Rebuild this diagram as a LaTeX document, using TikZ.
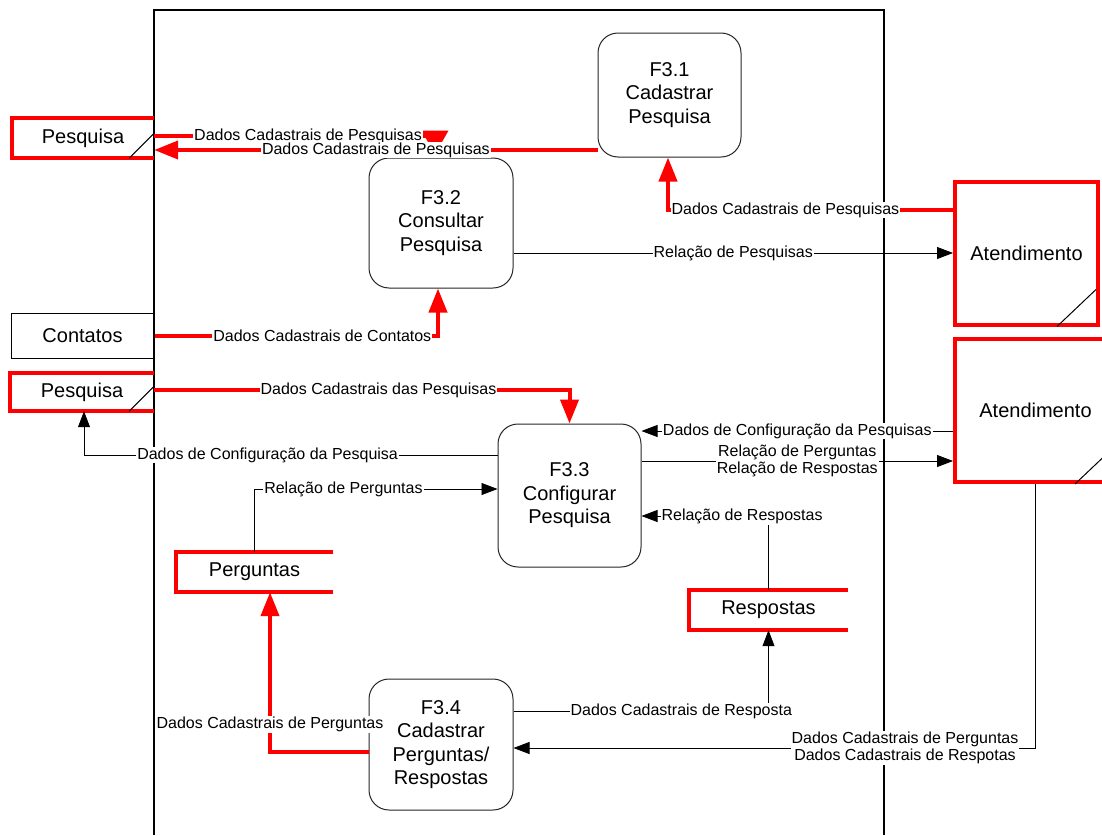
\documentclass[tikz,border=0pt]{standalone}
\usepackage{fontspec}
\setmainfont{Liberation Sans}
\usetikzlibrary{arrows.meta}

\newcommand{\procfont}{\fontsize{20}{23.5}\selectfont}
\newcommand{\flowfont}{\fontsize{16}{17.5}\selectfont}

\tikzstyle{process}=[draw=black!85, line width=1pt, rounded corners=20pt, align=center, inner sep=0pt, font=\procfont]
\tikzstyle{store}=[inner sep=0pt, font=\procfont]
\tikzstyle{entity}=[draw=red, line width=4pt, inner sep=0pt, font=\procfont]
\tikzstyle{red flow}=[red, line width=4pt, -{Triangle[length=24pt,width=18pt]}]
\tikzstyle{flow}=[black, line width=0.75pt, -{Triangle[length=16pt,width=12pt]}]
\tikzstyle{flow label}=[fill=white, text=black, inner sep=1pt, align=center, font=\flowfont]

\begin{document}
\begin{tikzpicture}[x=1pt, y=-1pt]
					\clip (0,0) rectangle (1102,835);
					\fill[white] (0,0) rectangle (1102,835);

					% System boundary
					\draw[line width=1.5pt] (154,835) -- (154,10) -- (884,10) -- (884,835);

					% Processes
					\node[process, minimum width=143pt, minimum height=124pt] (p31) at (669.5,95) {F3.1\\Cadastrar\\Pesquisa};
					\node[process, minimum width=144pt, minimum height=130pt] (p32) at (441,223) {F3.2\\Consultar\\Pesquisa};
					\node[process, minimum width=143pt, minimum height=143pt] (p33) at (569.5,495.5) {F3.3\\Configurar\\Pesquisa};
					\node[process, minimum width=144pt, minimum height=131pt] (p34) at (441,744.5) {F3.4\\Cadastrar\\Perguntas/\\Respostas};

					% Data stores and external entities
					\node[store, minimum width=142pt, minimum height=40pt] (pesq1) at (83,138) {Pesquisa};
					\node[store, minimum width=144pt, minimum height=38pt] (pesq2) at (82,392) {Pesquisa};
					\node[store, minimum width=157pt, minimum height=40pt] (perg) at (254.5,572) {Perguntas};
					\node[store, minimum width=159pt, minimum height=40pt] (resp) at (768.5,610) {Respostas};
					\node[store, draw, line width=1pt, minimum width=143pt, minimum height=45pt] (contatos) at (82.5,335.5) {Contatos};
					\node[entity, minimum width=143pt, minimum height=143pt] (atd1) at (1026.5,253) {Atendimento};
					\node[entity, minimum width=161pt, minimum height=143pt] (atd2) at (1035.5,410.5) {Atendimento};

					\foreach \s in {pesq1, pesq2, perg, resp}{
						\draw[red, line width=4pt] (\s.north east) -- (\s.north west) -- (\s.south west) -- (\s.south east);
					}
					\foreach \s in {pesq1, pesq2}{ \draw[line width=1pt] ([xshift=-25pt]\s.south east) -- ([yshift=25pt]\s.south east); }
					\foreach \s in {atd1, atd2}{ \draw[line width=1pt] ([xshift=-43pt]\s.south east) -- ([xshift=-4pt, yshift=37pt]\s.south east); }

					% Flows
					\draw[red flow, -{Triangle[length=24pt,width=26pt]}] ([yshift=2pt]pesq1.east) -| node[flow label, pos=0.274] {Dados Cadastrais de Pesquisas} ([xshift=-6pt, yshift=3pt]p32.north);
					\draw[red flow] ([yshift=-55pt]p31.west) -- node[flow label] {Dados Cadastrais de Pesquisas} ([yshift=-12pt]pesq1.east);
					\draw[red flow] ([yshift=43pt]atd1.west) -| node[flow label, pos=0.294] {Dados Cadastrais de Pesquisas} ([xshift=-1.5pt]p31.south);
					\draw[flow] (p32.east |- atd1.west) -- node[flow label] {Relação de Pesquisas} (atd1.west);
					\draw[red flow] (contatos.east) -| node[flow label, pos=0.296] {Dados Cadastrais de Contatos} ([xshift=-3pt]p32.south);
					\draw[red flow] ([yshift=2pt]pesq2.east) -| node[flow label, pos=0.27] {Dados Cadastrais das Pesquisas} (p33.north);
					\draw[flow] ([yshift=40.5pt]p33.west) -| node[flow label, pos=0.278] {Dados de Configuração da Pesquisa} ([xshift=2pt]pesq2.south);
					\draw[flow] ([yshift=-20.5pt]atd2.west) -- node[flow label] {Dados de Configuração da Pesquisas} ([yshift=64.5pt]p33.east);
					\draw[flow] ([yshift=34.5pt]p33.east) -- node[flow label] {Relação de Perguntas\\Relação de Respostas} ([yshift=-50.5pt]atd2.west);
					\draw[flow] (perg.north) |- node[flow label, pos=0.683] {Relação de Perguntas} ([yshift=6.5pt]p33.west);
					\draw[flow] (resp.north) |- node[flow label, pos=0.604] {Relação de Respostas} ([yshift=-20.5pt]p33.east);
					\draw[flow] ([yshift=33.5pt]p34.east) -| node[flow label, pos=0.329] {Dados Cadastrais de Resposta} (resp.south);
					\draw[flow] (atd2.south) |- node[flow label, pos=0.625] {Dados Cadastrais de Perguntas\\Dados Cadastrais de Respotas} ([yshift=-3.5pt]p34.east);
					\draw[red flow] ([yshift=-7.5pt]p34.west) -| node[flow label, pos=0.5875] {Dados Cadastrais de Perguntas} ([xshift=15.5pt]perg.south);
				\end{tikzpicture}
\end{document}
